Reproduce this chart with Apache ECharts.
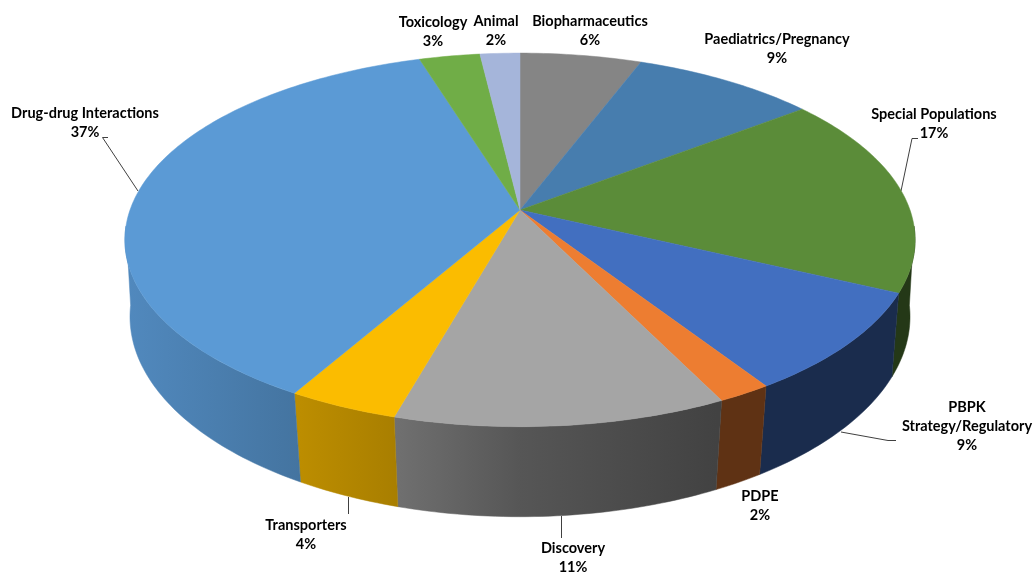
<!DOCTYPE html>
<html>
<head>
<meta charset="utf-8">
<title>3D pie chart</title>
<script src="https://cdn.jsdelivr.net/npm/echarts@6/dist/echarts.min.js"></script>
<style>
    html, body { margin: 0; padding: 0; background: #fff; }
    #chart { width: 1035px; height: 573px; }
</style>
</head>
<body>
<div id="chart"></div>
<script>
/* -------------------------------------------------------------------------- */
/*                               Chart data                                   */
/* -------------------------------------------------------------------------- */

// clockwise from 12 o'clock
var categories = ['Biopharmaceutics', 'Paediatrics/Pregnancy', 'Special Populations', 'PBPK\nStrategy/Regulatory', 'PDPE', 'Discovery', 'Transporters', 'Drug-drug Interactions', 'Toxicology', 'Animal'];
var shares = [5.8, 8.8, 17.4, 8.8, 1.9, 11.7, 3.9, 36.9, 2.9, 1.9];
var shareLabels = ['6%', '9%', '17%', '9%', '2%', '11%', '4%', '37%', '3%', '2%'];

/* -------------------------------------------------------------------------- */
/*                          Look of the tilted pie                            */
/* -------------------------------------------------------------------------- */

var colors = ['#858585', '#477DAE', '#5B8C39', '#426FC0', '#ED7D31', '#A5A5A5', '#FBBC00', '#5B9AD5', '#70AD47', '#A5B5DA'];

// perspective of the top face and of the bottom rim
var topRim = { cx: 520, cy: 210, a: 390, b: 182, k: 0.16 };
var bottomRim = { cx: 520, cy: 288, a: 386, b: 196, k: 0.143 };

// part of the wall that faces the viewer, in degrees from 12 o'clock
var wallFrom = 95;
var wallTo = 265;

// wall brightness against page x
var wallShade = [[125, 0.89], [300, 0.75], [400, 0.67], [520, 0.52], [717, 0.4], [915, 0.4]];

var labelFont = 'bold 14.5px Lato, sans-serif';

// label anchors (centre of the text block)
var labelPos = [[590, 31], [777, 49], [934, 124], [967, 426], [760, 506], [573, 558], [306, 535], [85, 123], [433, 32], [496, 31]];
var leaders = [
    [[138, 191], [102.5, 137.5], [108, 137.5]],
    [[918, 138.5], [912, 138.5], [901, 191]],
    [[348.5, 497], [348.5, 514]],
    [[561.5, 516], [561.5, 538]],
    [[841, 432], [888, 440.5], [896, 440.5]]
];

/* -------------------------------------------------------------------------- */
/*                                  Helpers                                   */
/* -------------------------------------------------------------------------- */

var total = shares.reduce(function (s, v) { return s + v; }, 0);
var running = 0;
var slices = shares.map(function (v) {
    var s = { from: running / total * 360, to: (running + v) / total * 360 };
    running += v;
    return s;
});

var project = function project(rim, deg) {
    var t = deg * Math.PI / 180;
    var X = Math.sin(t);
    var Y = Math.cos(t);
    var w = 1 + rim.k * Y;
    return [rim.cx + rim.a * X / w, rim.cy - rim.b * Y / w];
};

var arc = function arc(rim, from, to, api) {
    var pts = [];
    var n = Math.max(2, Math.ceil(Math.abs(to - from)));
    for (var i = 0; i <= n; i++) {
        pts.push(api.coord(project(rim, from + (to - from) * i / n)));
    }
    return pts;
};

var mix = function mix(hex, f) {
    var c = echarts.color.parse(hex);
    return 'rgb(' + Math.round(c[0] * f) + ',' + Math.round(c[1] * f) + ',' + Math.round(c[2] * f) + ')';
};

var wallFill = function wallFill(hex, api) {
    var x0 = api.coord([wallShade[0][0], 0])[0];
    var x1 = api.coord([wallShade[wallShade.length - 1][0], 0])[0];
    return {
        type: 'linear',
        global: true,
        x: x0, y: 0, x2: x1, y2: 0,
        colorStops: wallShade.map(function (s) {
            return { offset: (api.coord([s[0], 0])[0] - x0) / (x1 - x0), color: mix(hex, s[1]) };
        })
    };
};

/* -------------------------------------------------------------------------- */
/*                                   Chart                                    */
/* -------------------------------------------------------------------------- */

var chart = echarts.init(document.getElementById('chart'), null, { renderer: 'canvas' });

chart.setOption({
    animation: false,
    backgroundColor: '#fff',
    grid: { left: 0, right: 0, top: 0, bottom: 0 },
    xAxis: { type: 'value', min: 0, max: 1035, show: false },
    yAxis: { type: 'value', min: 0, max: 573, inverse: true, show: false },
    tooltip: { show: false },
    series: [{
        // side walls
        type: 'custom',
        coordinateSystem: 'cartesian2d',
        clip: false,
        silent: true,
        z: 2,
        data: shares.map(function (v, i) { return [i, v]; }),
        renderItem: function (params, api) {
            var s = slices[params.dataIndex];
            var from = Math.max(s.from, wallFrom);
            var to = Math.min(s.to, wallTo);
            if (to <= from) {
                return null;
            }
            var pts = arc(topRim, from, to, api).concat(arc(bottomRim, to, from, api));
            var fill = wallFill(colors[params.dataIndex], api);
            return {
                type: 'polygon',
                shape: { points: pts },
                style: { fill: fill, stroke: fill, lineWidth: 0.5 }
            };
        }
    }, {
        // top face
        type: 'custom',
        coordinateSystem: 'cartesian2d',
        clip: false,
        silent: true,
        z: 3,
        data: shares.map(function (v, i) { return [i, v]; }),
        renderItem: function (params, api) {
            var s = slices[params.dataIndex];
            var pts = [api.coord([topRim.cx, topRim.cy])].concat(arc(topRim, s.from, s.to, api));
            var c = colors[params.dataIndex];
            return {
                type: 'polygon',
                shape: { points: pts },
                style: { fill: c, stroke: c, lineWidth: 0.5 }
            };
        }
    }, {
        // leader lines
        type: 'custom',
        coordinateSystem: 'cartesian2d',
        clip: false,
        silent: true,
        z: 1,
        data: leaders.map(function (l, i) { return [i, 0]; }),
        renderItem: function (params, api) {
            return {
                type: 'polyline',
                shape: { points: leaders[params.dataIndex].map(function (p) { return api.coord(p); }) },
                style: { fill: null, stroke: '#404040', lineWidth: 1 }
            };
        }
    }, {
        // labels
        type: 'custom',
        coordinateSystem: 'cartesian2d',
        clip: false,
        silent: true,
        z: 5,
        data: categories.map(function (c, i) { return [i, 0]; }),
        renderItem: function (params, api) {
            var i = params.dataIndex;
            var p = api.coord(labelPos[i]);
            return {
                type: 'text',
                x: p[0],
                y: p[1],
                style: {
                    text: categories[i] + '\n' + shareLabels[i],
                    font: labelFont,
                    fill: '#000',
                    align: 'center',
                    verticalAlign: 'middle',
                    lineHeight: 19
                }
            };
        }
    }]
});
</script>
</body>
</html>
